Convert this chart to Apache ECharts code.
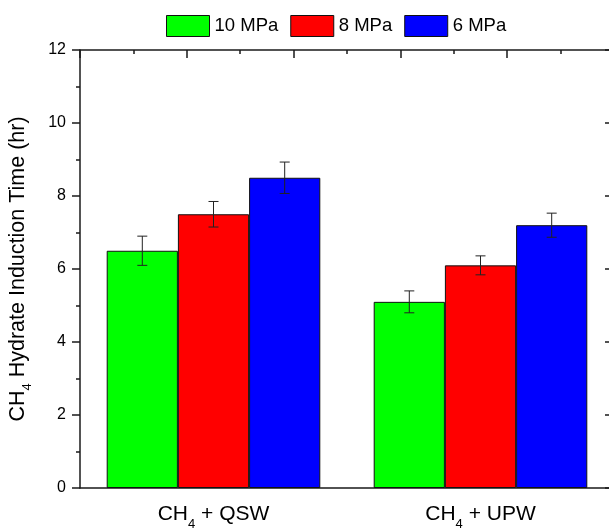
<!DOCTYPE html>
<html>
<head>
<meta charset="utf-8">
<script src="https://cdn.jsdelivr.net/npm/echarts@6/dist/echarts.min.js"></script>
<style>
  html, body { margin: 0; padding: 0; overflow: hidden; background: #fff; }
  #main { width: 620px; height: 529px; }
</style>
</head>
<body>
<div id="main"></div>
<script>
var categories = ["{a|CH}{s|4}{a| + QSW}", "{a|CH}{s|4}{a| + UPW}"];
var seriesNames = ["10 MPa", "8 MPa", "6 MPa"];
var values10 = [6.5, 5.1];
var values8 = [7.5, 6.1];
var values6 = [8.5, 7.2];
var errors10 = [0.4, 0.3];
var errors8 = [0.35, 0.26];
var errors6 = [0.43, 0.33];
var colors = ["#00ff00", "#ff0000", "#0000ff"];

var myChart = echarts.init(document.getElementById("main"));

var allValues = [values10, values8, values6];
var allErrors = [errors10, errors8, errors6];
var font = "Liberation Sans, Arial, sans-serif";
var axisColor = "#1a1a1a";

// one error bar per bar, shifted from the category center by bar index
function errorSeries(k) {
  var data = allValues[k].map(function (v, i) {
    return [i, v - allErrors[k][i], v + allErrors[k][i]];
  });
  return {
    type: "custom",
    name: seriesNames[k],
    xAxisIndex: 0,
    yAxisIndex: 0,
    z: 10,
    silent: true,
    data: data,
    encode: { x: 0, y: [1, 2] },
    renderItem: function (params, api) {
      var catW = api.size([1, 0])[0];
      var barW = (catW * 0.8) / 3;
      var lo = api.coord([api.value(0), api.value(1)]);
      var hi = api.coord([api.value(0), api.value(2)]);
      var x = lo[0] + (k - 1) * barW;
      var cap = 5;
      var style = { stroke: "#222", lineWidth: 1 };
      return {
        type: "group",
        children: [
          { type: "line", shape: { x1: x, y1: lo[1], x2: x, y2: hi[1] }, style: style },
          { type: "line", shape: { x1: x - cap, y1: hi[1], x2: x + cap, y2: hi[1] }, style: style },
          { type: "line", shape: { x1: x - cap, y1: lo[1], x2: x + cap, y2: lo[1] }, style: style },
        ],
      };
    },
  };
}

var barSeries = seriesNames.map(function (name, k) {
  return {
    name: name,
    type: "bar",
    xAxisIndex: 0,
    yAxisIndex: 0,
    barGap: "0%",
    barCategoryGap: "20%",
    data: allValues[k],
    itemStyle: { color: colors[k], borderColor: "#111", borderWidth: 1 },
  };
});

myChart.setOption({
  backgroundColor: "#ffffff",
  animation: false,
  textStyle: { fontFamily: font },
  legend: {
    left: 161,
    top: 10,
    itemWidth: 43,
    itemHeight: 21,
    itemGap: 12,
    icon: "rect",
    data: seriesNames,
    textStyle: { fontSize: 18.5, color: "#000", fontFamily: font },
    itemStyle: { borderColor: "#111", borderWidth: 1 },
  },
  grid: { left: 80, right: 6, top: 50, bottom: 41, containLabel: false, outerBoundsMode: "none" },
  xAxis: [
    {
      type: "category",
      data: categories,
      position: "bottom",
      axisLine: { lineStyle: { color: axisColor, width: 1.5 } },
      axisTick: { alignWithLabel: true, length: 8, lineStyle: { color: axisColor, width: 1.5 } },
      axisLabel: {
        margin: 10,
        color: "#000",
        rich: {
          a: { fontSize: 21, fontFamily: font, color: "#000" },
          s: { fontSize: 13, fontFamily: font, color: "#000", padding: [20, 0, 0, 0] },
        },
      },
    },
    {
      type: "category",
      data: categories,
      position: "bottom",
      axisLine: { show: false },
      axisTick: { length: 5, lineStyle: { color: axisColor, width: 1.5 } },
      axisLabel: { show: false },
    },
    {
      type: "value",
      position: "top",
      min: 0,
      max: 10,
      interval: 2,
      axisLine: { show: true, onZero: false, lineStyle: { color: axisColor, width: 1.5 } },
      axisTick: { show: true, inside: true, length: 8, lineStyle: { color: axisColor, width: 1.5 } },
      minorTick: { show: true, splitNumber: 2, length: 4, lineStyle: { color: axisColor, width: 1.5 } },
      axisLabel: { show: false },
      splitLine: { show: false },
    },
  ],
  yAxis: [
    {
      type: "value",
      min: 0,
      max: 12,
      interval: 2,
      name: "{a|CH}{s|4}{a| Hydrate Induction Time (hr)}",
      nameLocation: "middle",
      nameGap: 46,
      nameRotate: 90,
      nameTextStyle: {
        rich: {
          a: { fontSize: 21.5, fontFamily: font, color: "#000" },
          s: { fontSize: 13, fontFamily: font, color: "#000", padding: [18, 0, 0, 0] },
        },
      },
      axisLine: { show: true, lineStyle: { color: axisColor, width: 1.5 } },
      axisTick: { show: true, length: 8, lineStyle: { color: axisColor, width: 1.5 } },
      minorTick: { show: true, splitNumber: 2, length: 4, lineStyle: { color: axisColor, width: 1.5 } },
      axisLabel: { margin: 14, fontSize: 16, color: "#000", fontFamily: font },
      splitLine: { show: false },
    },
    {
      type: "value",
      position: "right",
      min: 0,
      max: 12,
      interval: 2,
      axisLine: { show: true, lineStyle: { color: axisColor, width: 1.5 } },
      axisTick: { show: true, inside: true, length: 9, lineStyle: { color: axisColor, width: 1.5 } },
      minorTick: { show: true, splitNumber: 2, length: 5, lineStyle: { color: axisColor, width: 1.5 } },
      axisLabel: { show: false },
      splitLine: { show: false },
    },
  ],
  series: barSeries.concat([errorSeries(0), errorSeries(1), errorSeries(2)]),
});
</script>
</body>
</html>
